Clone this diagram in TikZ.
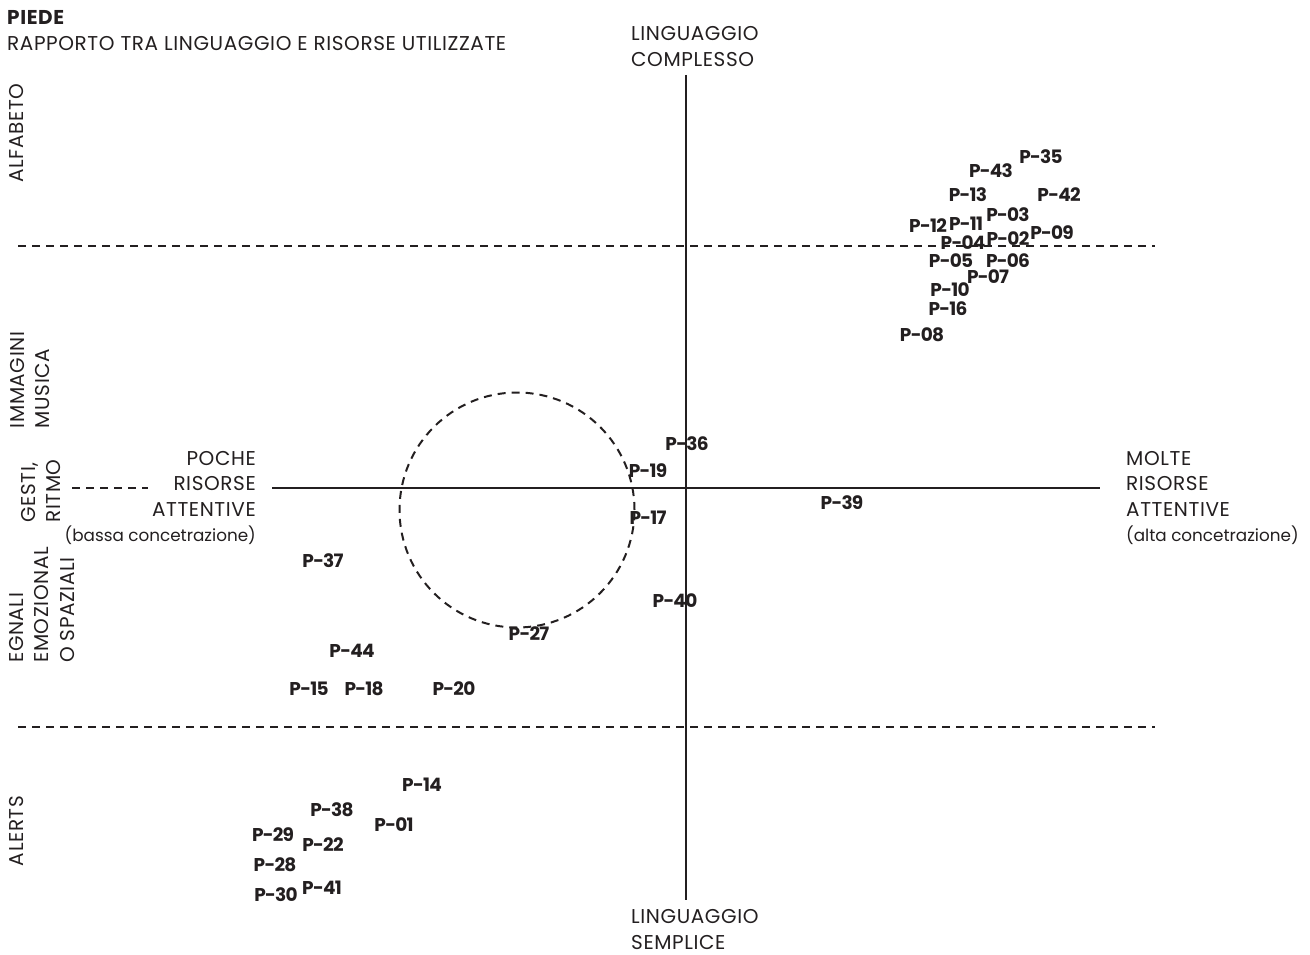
\documentclass[tikz,border=0pt]{standalone}
\usepackage{fontspec}
\setmainfont{Poppins}
\newfontfamily\capsfont[LetterSpace=3]{Poppins}
\newfontfamily\tagfont[LetterSpace=-4]{Poppins}
\newcommand{\smallline}[1]{{\fontsize{16.8}{25.5}\selectfont\addfontfeatures{LetterSpace=0}#1}}
\begin{document}
\begin{tikzpicture}[x=1pt,y=-1pt,
  lbl/.style={inner sep=0pt,text=inkc,font=\capsfont\fontsize{20}{25.5}\selectfont},
  pt/.style={inner sep=0pt,text=inkc,font=\tagfont\fontsize{18.5}{20}\selectfont\bfseries},
  side/.style={lbl,rotate=90,align=left},
  axis/.style={draw=inkc,line width=2.8pt},
  guide/.style={draw=inkc,line width=2pt,dash pattern=on 8pt off 6pt}]
\definecolor{inkc}{HTML}{231F20}
\useasboundingbox (0,0) rectangle (1310,955);

% axes
\coordinate (ytop) at (686,75);
\coordinate (ybot) at (686,900);
\coordinate (xl) at (272,488);
\coordinate (xr) at (1100,488);
\draw[axis] (ytop) -- (ybot);
\draw[axis] (xl) -- (xr);

% band separators
\coordinate (ua) at (18,246);  \coordinate (ub) at (1155,246);
\coordinate (la) at (18,727);  \coordinate (lb) at (1155,727);
\coordinate (ga) at (72,488);  \coordinate (gb) at (148,488);
\draw[guide] (ua) -- (ub);
\draw[guide] (la) -- (lb);
\draw[guide] (ga) -- (gb);

% dashed circle
\coordinate (cc) at (517,510);
\draw[guide] (cc) circle[radius=117.5pt];

% title
\node[lbl,anchor=west,font=\capsfont\fontsize{20}{25.5}\selectfont\bfseries] (title) at (7,17.5) {PIEDE};
\node[lbl,anchor=west] (subtitle) at (7,43.5) {RAPPORTO TRA LINGUAGGIO E RISORSE UTILIZZATE};

% axis labels
\node[lbl,anchor=west,align=left] (compl) at (631,46.5) {LINGUAGGIO\\COMPLESSO};
\node[lbl,anchor=west,align=left] (sempl) at (631,929.5) {LINGUAGGIO\\SEMPLICE};
\node[lbl,anchor=east,align=right] (poche) at (256,498) {POCHE\\RISORSE\\ATTENTIVE\\\smallline{(bassa concetrazione)}};
\node[lbl,anchor=west,align=left] (molte) at (1126,498) {MOLTE\\RISORSE\\ATTENTIVE\\\smallline{(alta concetrazione)}};

% band labels
\node[side] (alfa) at (17,133) {ALFABETO};
\node[side] (imm) at (30,380) {IMMAGINI\\MUSICA};
\node[side] (gest) at (41,491) {GESTI,\\RITMO};
\node[side] (egn) at (42,605) {EGNALI\\EMOZIONAL\\O SPAZIALI};
\node[side] (alert) at (17,831) {ALERTS};

% points
\node[pt] (p35) at (1041,157) {P-35};
\node[pt] (p43) at (991,171) {P-43};
\node[pt] (p13) at (968,195) {P-13};
\node[pt] (p42) at (1059,195) {P-42};
\node[pt] (p03) at (1008,215) {P-03};
\node[pt] (p12) at (928,226) {P-12};
\node[pt] (p11) at (966,224) {P-11};
\node[pt] (p09) at (1052,233) {P-09};
\node[pt] (p04) at (963,243) {P-04};
\node[pt] (p02) at (1008,239) {P-02};
\node[pt] (p05) at (951,261) {P-05};
\node[pt] (p06) at (1008,261) {P-06};
\node[pt] (p07) at (988,277) {P-07};
\node[pt] (p10) at (950,290) {P-10};
\node[pt] (p16) at (948,309) {P-16};
\node[pt] (p08) at (922,335) {P-08};

\node[pt] (p36) at (687,444) {P-36};
\node[pt] (p19) at (648,471) {P-19};
\node[pt] (p17) at (648,518) {P-17};
\node[pt] (p39) at (842,503) {P-39};
\node[pt] (p40) at (675,601) {P-40};
\node[pt] (p27) at (529,634) {P-27};
\node[pt] (p37) at (323,561) {P-37};
\node[pt] (p44) at (352,651) {P-44};
\node[pt] (p15) at (309,689) {P-15};
\node[pt] (p18) at (364,689) {P-18};
\node[pt] (p20) at (454,689) {P-20};

\node[pt] (p14) at (422,785) {P-14};
\node[pt] (p38) at (332,810) {P-38};
\node[pt] (p01) at (394,825) {P-01};
\node[pt] (p29) at (273,835) {P-29};
\node[pt] (p22) at (323,845) {P-22};
\node[pt] (p28) at (275,865) {P-28};
\node[pt] (p41) at (322,888) {P-41};
\node[pt] (p30) at (276,895) {P-30};
\end{tikzpicture}
\end{document}
